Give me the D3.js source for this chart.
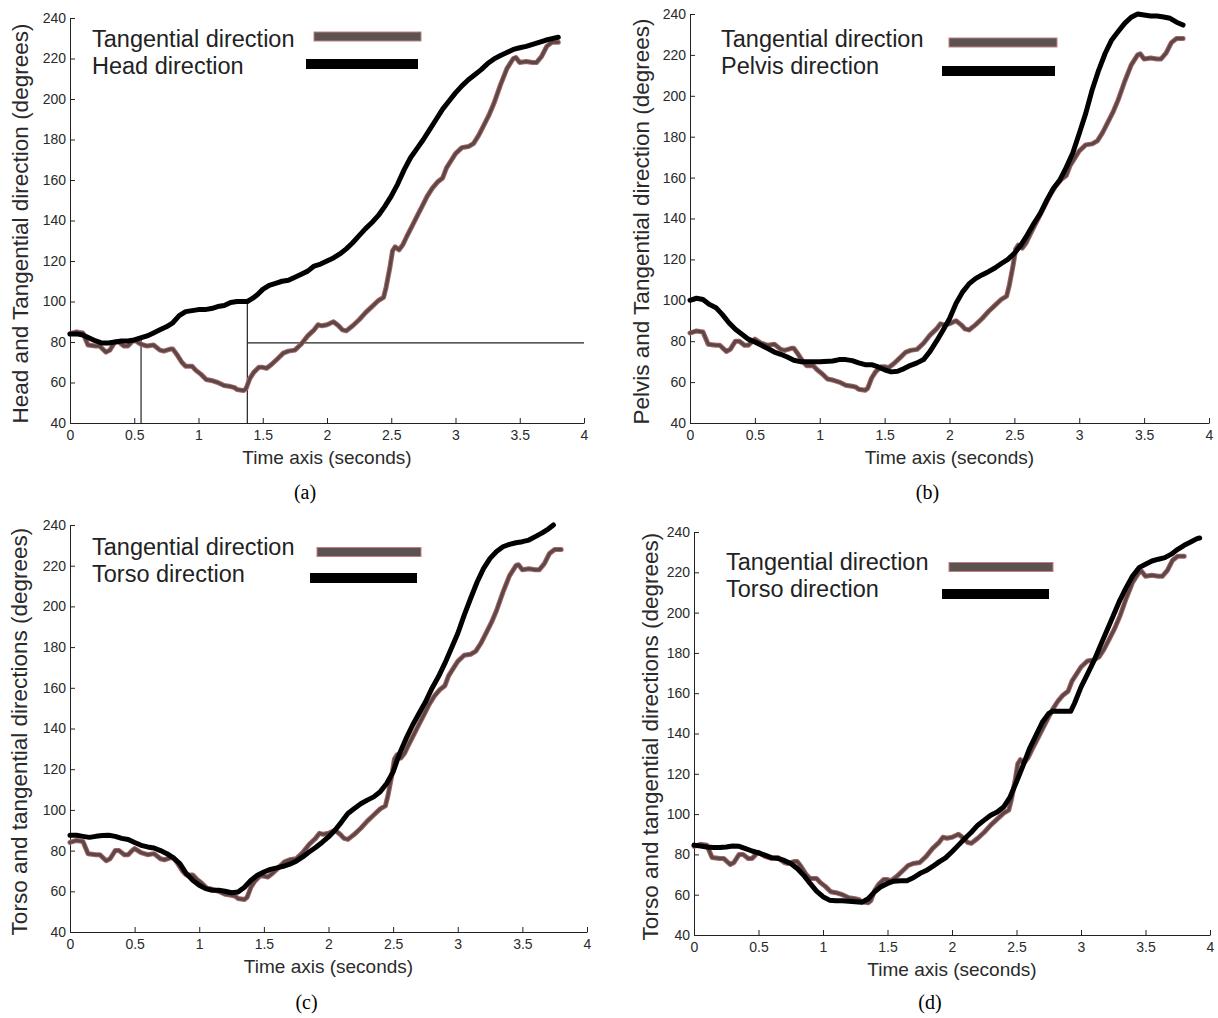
<!DOCTYPE html>
<html>
<head>
<meta charset="utf-8">
<script src="https://cdn.jsdelivr.net/npm/d3@7"></script>
<style>
  body { margin: 0; background: #fff; }
  svg { display: block; font-family: 'Liberation Sans', Arial, sans-serif; }
  .axis text { fill: #2a2a2a; font-size: 14px; }
  .axis path, .axis line { stroke: #222; }
</style>
</head>
<body>
<div class="container"></div>
<script>
// tick labels
let xTicks = [0, 0.5, 1, 1.5, 2, 2.5, 3, 3.5, 4]
let yTicks = [40, 60, 80, 100, 120, 140, 160, 180, 200, 220, 240]

// tangential direction, same in all four plots [time, degrees]
let tangential = [[0,84],[0.05,85],[0.1,84.5],[0.14,78.5],[0.2,78],[0.23,78],[0.28,75],[0.31,76],[0.35,80],[0.38,80],
  [0.42,78],[0.45,78],[0.48,80],[0.5,81],[0.55,79],[0.6,78],[0.65,78.5],[0.7,76],[0.73,75.5],[0.78,76.5],
  [0.8,76.5],[0.83,74],[0.87,70],[0.9,68],[0.95,68],[0.98,66],[1.02,64],[1.06,61.5],[1.1,61],[1.15,60],
  [1.2,58.5],[1.25,58],[1.28,57.5],[1.3,56.5],[1.35,56],[1.37,57],[1.4,62],[1.43,65],[1.47,67.5],[1.5,67.5],
  [1.53,67],[1.57,69],[1.62,72],[1.66,74.5],[1.7,75.5],[1.75,76],[1.8,79],[1.85,83],[1.9,86],[1.93,88.5],
  [1.96,88],[2.0,88.5],[2.05,90],[2.09,88],[2.12,86],[2.15,85.5],[2.2,88],[2.25,91],[2.3,94.5],[2.35,97.5],
  [2.4,100.5],[2.44,102],[2.46,107],[2.49,117],[2.51,125],[2.53,127],[2.56,125.5],[2.59,128],[2.62,132],[2.66,137],
  [2.7,142],[2.74,147],[2.78,152],[2.82,156],[2.86,159],[2.9,161],[2.93,166],[2.97,170],[3.0,173],[3.05,176],
  [3.1,176.5],[3.14,178],[3.18,182],[3.22,187],[3.26,192],[3.3,198],[3.35,207],[3.4,215],[3.45,220],[3.47,220.5],
  [3.5,218],[3.55,218.5],[3.6,218],[3.63,218],[3.67,221],[3.71,226],[3.75,228],[3.8,228]]

let headDir = [[0,84],[0.05,84],[0.1,83.5],[0.15,82],[0.2,80.5],[0.25,79.5],[0.3,79.5],[0.35,80],[0.4,80.5],[0.45,80.5],
  [0.5,81],[0.55,82],[0.6,83],[0.65,84.5],[0.7,86],[0.75,87.5],[0.8,89.5],[0.85,93],[0.9,95],[0.95,95.5],
  [1.0,96],[1.05,96],[1.1,96.5],[1.15,97.5],[1.2,98],[1.25,99.5],[1.3,100],[1.38,100],[1.42,101.5],[1.46,103.5],
  [1.5,106],[1.55,108],[1.6,109],[1.65,110],[1.7,110.5],[1.75,112],[1.8,113.5],[1.85,115],[1.9,117.5],[1.95,118.5],
  [2.0,120],[2.05,121.5],[2.1,123.5],[2.15,126],[2.2,129],[2.25,132.5],[2.3,136],[2.35,139],[2.4,142.5],[2.45,147],
  [2.5,152],[2.55,158],[2.6,165],[2.65,171],[2.7,175.5],[2.75,180],[2.8,185],[2.85,190],[2.9,195],[2.95,199],
  [3.0,203],[3.05,206.5],[3.1,209.5],[3.15,212],[3.2,214.5],[3.25,217.5],[3.3,219.8],[3.35,221.5],[3.4,223],[3.45,224.5],
  [3.5,225.3],[3.55,226],[3.6,227],[3.65,228],[3.7,229],[3.75,229.8],[3.8,230.5]]

let pelvisDir = [[0,100],[0.05,101],[0.1,100.4],[0.15,98],[0.2,96.4],[0.25,93],[0.3,89],[0.35,85.8],[0.4,83.4],[0.45,81],
  [0.5,79.6],[0.55,78],[0.6,76.4],[0.65,74.7],[0.7,73.6],[0.75,72.3],[0.8,70.7],[0.85,70],[0.9,70],[1.0,70],
  [1.1,70.3],[1.15,71],[1.2,71],[1.25,70.5],[1.3,69.4],[1.35,68.5],[1.4,68.5],[1.45,67.4],[1.5,66],[1.55,65],
  [1.6,65.3],[1.65,66.6],[1.7,68.2],[1.75,69.4],[1.8,71],[1.85,75],[1.9,80],[1.95,85.4],[2.0,91],[2.05,98.4],
  [2.1,104],[2.15,108],[2.2,110.6],[2.25,112.4],[2.3,114],[2.35,115.8],[2.4,118],[2.45,120],[2.5,123],[2.55,127],
  [2.6,132],[2.65,137.5],[2.7,142.5],[2.75,149],[2.8,154.7],[2.85,158.8],[2.9,165],[2.95,172],[3.0,181.6],[3.05,191.4],
  [3.1,203],[3.15,212.6],[3.2,220.8],[3.25,227.3],[3.3,231.4],[3.35,235.4],[3.4,238.4],[3.45,240],[3.5,239.5],[3.55,239],
  [3.6,239],[3.65,238.5],[3.7,237.9],[3.75,236],[3.8,234.6]]

let torsoDirC = [[0,87.5],[0.05,87.5],[0.1,87],[0.15,86.5],[0.2,87],[0.25,87.4],[0.3,87.5],[0.35,87],[0.4,86],[0.45,85.5],
  [0.5,84],[0.55,82.6],[0.6,81.8],[0.65,81.3],[0.7,80],[0.75,78.5],[0.8,76.4],[0.85,73.6],[0.9,68.7],[0.95,65.4],
  [1.0,63],[1.05,61.3],[1.1,60.5],[1.15,60.5],[1.2,60],[1.25,59.3],[1.3,59.7],[1.35,62],[1.4,65.4],[1.45,67.9],
  [1.5,69.5],[1.55,70.8],[1.6,71.5],[1.65,72.3],[1.7,73.3],[1.75,74.8],[1.8,76.9],[1.85,79.3],[1.9,81.5],[1.95,84],
  [2.0,86.7],[2.05,90],[2.1,94],[2.15,98.2],[2.2,100.7],[2.25,103],[2.3,104.8],[2.35,106.4],[2.4,108.9],[2.45,113],
  [2.5,118.7],[2.55,127.7],[2.6,135],[2.65,141.6],[2.7,147.4],[2.75,153],[2.8,159.7],[2.85,165.4],[2.9,172],[2.95,179.3],
  [3.0,186.7],[3.05,195.7],[3.1,204],[3.15,212],[3.2,218.7],[3.25,223.6],[3.3,227],[3.35,229.3],[3.4,230.5],[3.45,231.3],
  [3.5,231.8],[3.55,232.6],[3.6,234.3],[3.65,236],[3.7,238],[3.74,240]]

let torsoDirD = [[0,84.6],[0.05,84.2],[0.1,83.7],[0.15,83.4],[0.2,83.4],[0.25,83.7],[0.3,84.2],[0.35,84],[0.4,82.9],[0.45,81.7],
  [0.5,80.8],[0.55,79.6],[0.6,78.4],[0.65,78],[0.7,77],[0.75,75.5],[0.8,73],[0.85,69.7],[0.9,65.6],[0.95,61.8],
  [1.0,59],[1.05,57.3],[1.1,57],[1.15,57],[1.2,56.8],[1.25,56.5],[1.3,56.2],[1.35,58],[1.4,61.4],[1.45,64],
  [1.5,65.6],[1.55,66.7],[1.6,66.9],[1.65,66.9],[1.7,68.4],[1.75,70.5],[1.8,72],[1.85,74],[1.9,76.3],[1.95,78.3],
  [2.0,81.3],[2.05,84.6],[2.1,87.9],[2.15,91],[2.2,94.5],[2.25,97],[2.3,99.4],[2.35,101],[2.4,103.5],[2.45,108.5],
  [2.5,116],[2.55,124],[2.6,132.4],[2.65,139],[2.7,145.6],[2.75,150],[2.78,151],[2.92,151],[2.95,155],[3.0,163],
  [3.05,169.5],[3.1,176],[3.15,183.6],[3.2,191],[3.25,198.4],[3.3,206],[3.35,212.4],[3.4,218.2],[3.45,222.3],[3.5,224],
  [3.55,225.6],[3.6,226.5],[3.65,227.3],[3.7,229],[3.75,231.4],[3.8,233.4],[3.85,235],[3.9,236.7],[3.92,237]]

// guide lines drawn in plot (a) [[t1,v1],[t2,v2]]
let guidesA = [[[0.553,40],[0.553,81.5]], [[1.38,40],[1.38,100]], [[1.38,79.6],[4,79.6]]]

let yTitles = ['Head and Tangential direction (degrees)', 'Pelvis and Tangential direction (degrees)',
  'Torso and tangential directions (degrees)', 'Torso and tangential directions (degrees)']
let bodyNames = ['Head direction', 'Pelvis direction', 'Torso direction', 'Torso direction']
let captions = ['(a)', '(b)', '(c)', '(d)']
let bodySeries = [headDir, pelvisDir, torsoDirC, torsoDirD]

// layout of the four plots
let panels = [
  { left: 70, right: 584, top: 18, bottom: 423, titleX: 20, legX: 92, legY: 47, bar1: [314, 421, 36.5], bar2: [306, 418, 64], capY: 499 },
  { left: 690, right: 1209, top: 14, bottom: 423, titleX: 641, legX: 721, legY: 47, bar1: [949, 1057, 42.5], bar2: [942, 1055, 71], capY: 499 },
  { left: 70, right: 587, top: 525, bottom: 932, titleX: 19, legX: 92, legY: 555, bar1: [317, 421, 552], bar2: [310, 417, 578], capY: 1009 },
  { left: 694, right: 1210, top: 532, bottom: 935, titleX: 650, legX: 726, legY: 570, bar1: [949, 1053, 567], bar2: [942, 1049, 594], capY: 1009 }
]

let svg = d3.select('.container')
  .append('svg')
  .attr('width', 1218)
  .attr('height', 1018)

svg.append('rect').attr('width', 1218).attr('height', 1018).attr('fill', '#fff')

panels.forEach((p, i) => {
  let xScale = d3.scaleLinear().domain([0, 4]).range([p.left, p.right])
  let yScale = d3.scaleLinear().domain([40, 240]).range([p.bottom, p.top])

  let g = svg.append('g')

  g.append('g')
    .attr('class', 'axis')
    .attr('transform', `translate(0,${p.bottom})`)
    .call(d3.axisBottom(xScale).tickValues(xTicks).tickFormat(d => String(d))
      .tickSizeInner(-5).tickSizeOuter(0).tickPadding(7))

  g.append('g')
    .attr('class', 'axis')
    .attr('transform', `translate(${p.left},0)`)
    .call(d3.axisLeft(yScale).tickValues(yTicks)
      .tickSizeInner(-5).tickSizeOuter(0).tickPadding(4))

  let line = d3.line()
    .x(d => xScale(d[0]))
    .y(d => yScale(d[1]))

  // guide lines only in (a)
  if (i === 0) {
    guidesA.forEach(gl => {
      g.append('path').attr('d', line(gl))
        .attr('fill', 'none').attr('stroke', '#222').attr('stroke-width', 1.2)
    })
  }

  // tangential: reddish rim + dark brown core
  g.append('path').attr('d', line(tangential))
    .attr('fill', 'none').attr('stroke', '#a86464').attr('stroke-width', 5)
    .attr('stroke-linejoin', 'round').attr('stroke-linecap', 'round')
  g.append('path').attr('d', line(tangential))
    .attr('fill', 'none').attr('stroke', '#5a4848').attr('stroke-width', 3)
    .attr('stroke-linejoin', 'round').attr('stroke-linecap', 'round')

  g.append('path').attr('d', line(bodySeries[i]))
    .attr('fill', 'none').attr('stroke', '#000').attr('stroke-width', 5)
    .attr('stroke-linejoin', 'round').attr('stroke-linecap', 'round')

  // axis titles
  g.append('text')
    .attr('transform', `translate(${p.titleX},${(p.top + p.bottom) / 2 + 3}) rotate(-90)`)
    .attr('dy', '0.35em')
    .attr('text-anchor', 'middle')
    .attr('fill', '#2a2a2a')
    .style('font-size', '22.5px')
    .text(yTitles[i])

  g.append('text')
    .attr('x', (p.left + p.right) / 2)
    .attr('y', p.bottom + 41)
    .attr('text-anchor', 'middle')
    .attr('fill', '#2a2a2a')
    .style('font-size', '19px')
    .text('Time axis (seconds)')

  // legend
  g.append('text').attr('x', p.legX).attr('y', p.legY)
    .attr('fill', '#222').style('font-size', '23.5px').text('Tangential direction')
  g.append('text').attr('x', p.legX).attr('y', p.legY + 27)
    .attr('fill', '#222').style('font-size', '23.5px').text(bodyNames[i])

  g.append('rect')
    .attr('x', p.bar1[0]).attr('y', p.bar1[2] - 4.5)
    .attr('width', p.bar1[1] - p.bar1[0]).attr('height', 9)
    .attr('fill', '#5c5252').attr('stroke', '#c08080').attr('stroke-width', 1)
  g.append('rect')
    .attr('x', p.bar2[0]).attr('y', p.bar2[2] - 5)
    .attr('width', p.bar2[1] - p.bar2[0]).attr('height', 10)
    .attr('fill', '#000')

  // caption
  g.append('text')
    .attr('x', (p.left + p.right) / 2 - 22)
    .attr('y', p.capY)
    .attr('text-anchor', 'middle')
    .attr('fill', '#000')
    .style('font-family', "'Liberation Serif', 'Times New Roman', serif")
    .style('font-size', '20px')
    .text(captions[i])
})
</script>
</body>
</html>
